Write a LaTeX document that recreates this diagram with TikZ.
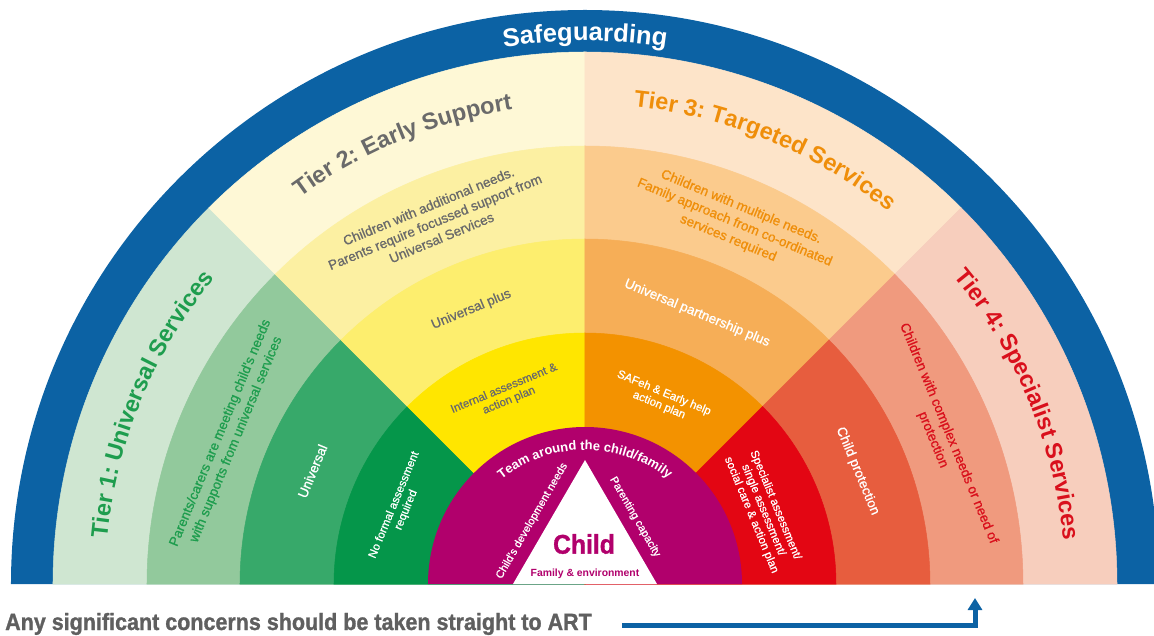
\documentclass[tikz,border=0pt]{standalone}
\usepackage{fontspec}
\setmainfont{Liberation Sans}
\newfontfamily\condbold[FakeStretch=0.915,FakeBold=1.2]{Liberation Sans Bold}
\newfontfamily\medfont[FakeBold=0.9]{Liberation Sans}
\usetikzlibrary{decorations.text,arrows.meta}
\definecolor{sgblue}{HTML}{0C62A4}
\definecolor{tOneA}{HTML}{CFE6D1}
\definecolor{tOneB}{HTML}{92C99C}
\definecolor{tOneC}{HTML}{37A96A}
\definecolor{tOneD}{HTML}{05964A}
\definecolor{tTwoA}{HTML}{FEF8D6}
\definecolor{tTwoB}{HTML}{FCF0A2}
\definecolor{tTwoC}{HTML}{FDEE6E}
\definecolor{tTwoD}{HTML}{FFE600}
\definecolor{tThreeA}{HTML}{FDE4C9}
\definecolor{tThreeB}{HTML}{FBCB8D}
\definecolor{tThreeC}{HTML}{F6AE57}
\definecolor{tThreeD}{HTML}{F39200}
\definecolor{tFourA}{HTML}{F7CEBD}
\definecolor{tFourB}{HTML}{F09A7E}
\definecolor{tFourC}{HTML}{E75D3E}
\definecolor{tFourD}{HTML}{E30613}
\definecolor{cmag}{HTML}{B1006C}
\definecolor{greentxt}{HTML}{1E9D4E}
\definecolor{graytxt}{HTML}{6A6A6A}
\definecolor{orangetxt}{HTML}{EF8E0A}
\definecolor{redtxt}{HTML}{D9101C}
\definecolor{bottomgray}{HTML}{5F5F5F}
\newcommand\ringsector[4]{%
  \filldraw[fill=#1,draw=#1,line width=0.5pt] (0,0) -- (#2:#4) arc[start angle=#2,end angle=#3,radius=#4pt] -- cycle;}
\newcommand\arctext[5]{%
  \path[decorate,decoration={text along path,text align=center,text={|#4|#5}}]
    (#2+#3:#1) arc[start angle=#2+#3,end angle=#2-#3,radius=#1pt];}
\tikzset{
  ringtxt/.style={font=\medfont\fontsize{13.5}{17}\selectfont,align=center,inner sep=0pt},
  smalltxt/.style={font=\medfont\fontsize{11.5}{13}\selectfont,align=center,inner sep=0pt},
  tritxt/.style={font=\medfont\fontsize{11}{13}\selectfont,text=white,inner sep=0pt},
  artarrow/.style={draw=sgblue,line width=5pt,-{Triangle[width=14pt,length=12pt]}}
}
\begin{document}
\begin{tikzpicture}[x=1pt,y=1pt]
\useasboundingbox (-585,-51) rectangle (569,584);
% outer blue ring
\fill[sgblue] (-574,0) arc[start angle=180,end angle=0,radius=574pt] -- cycle;
% rings
\ringsector{tOneA}{180}{135}{532}\ringsector{tTwoA}{135}{90}{532}\ringsector{tThreeA}{90}{45}{532}\ringsector{tFourA}{45}{0}{532}
\ringsector{tOneB}{180}{135}{438}\ringsector{tTwoB}{135}{90}{438}\ringsector{tThreeB}{90}{45}{438}\ringsector{tFourB}{45}{0}{438}
\ringsector{tOneC}{180}{135}{345}\ringsector{tTwoC}{135}{90}{345}\ringsector{tThreeC}{90}{45}{345}\ringsector{tFourC}{45}{0}{345}
\ringsector{tOneD}{180}{135}{251}\ringsector{tTwoD}{135}{90}{251}\ringsector{tThreeD}{90}{45}{251}\ringsector{tFourD}{45}{0}{251}
% centre
\fill[cmag] (-157,0) arc[start angle=180,end angle=0,radius=157pt] -- cycle;
\fill[white] (-72,0) -- (0,124) -- (72,0) -- cycle;
% curved titles
\arctext{543}{90}{60}{\color{white}\bfseries\fontsize{25.5}{30}\selectfont}{Safeguarding}
\arctext{480}{157.5}{40}{\color{greentxt}\bfseries\fontsize{23.5}{28}\selectfont}{Tier 1: Universal Services}
\arctext{480}{112.5}{40}{\color{graytxt}\bfseries\fontsize{23.5}{28}\selectfont}{Tier 2: Early Support}
\arctext{480}{67.5}{40}{\color{orangetxt}\bfseries\fontsize{23.5}{28}\selectfont}{Tier 3: Targeted Services}
\arctext{480}{22.5}{40}{\color{redtxt}\bfseries\fontsize{23.5}{28}\selectfont}{Tier 4: Specialist Services}
\arctext{134}{90}{80}{\color{white}\bfseries\fontsize{13}{15}\selectfont}{Team around the child/family}
% tier 1
\node[ringtxt,text=greentxt,rotate=67.5] (tonec) at (157.5:386) {Parents/carers are meeting child's needs\\with supports from universal services};
\node[ringtxt,text=white,rotate=67.5] (toneb) at (157.5:295) {Universal};
\node[smalltxt,text=white,rotate=67.5] (tonea) at (157.5:200) {No formal assessment\\required};
% tier 2
\node[ringtxt,text=graytxt,rotate=22.5] (ttwoc) at (112.5:392) {Children with additional needs.\\Parents require focussed support from\\Universal Services};
\node[ringtxt,text=graytxt,rotate=22.5] (ttwob) at (112.5:297) {Universal plus};
\node[smalltxt,text=graytxt,rotate=22.5] (ttwoa) at (112.5:205) {Internal assessment \&\\action plan};
% tier 3
\node[ringtxt,text=orangetxt,rotate=-22.5] (tthreec) at (67.5:391) {Children with multiple needs.\\Family approach from co-ordinated\\services required};
\node[ringtxt,text=white,rotate=-22.5] (tthreeb) at (67.5:293) {Universal partnership plus};
\node[smalltxt,text=white,rotate=-22.5] (tthreea) at (67.5:200) {SAFeh \& Early help\\action plan};
% tier 4
\node[ringtxt,text=redtxt,rotate=-67.5] (tfourc) at (22.5:385) {Children with complex needs or need of\\protection};
\node[ringtxt,text=white,rotate=-67.5] (tfourb) at (22.5:295) {Child protection};
\node[smalltxt,text=white,rotate=-67.5] (tfoura) at (22.5:193) {Specialist assessment/\\single assessment/\\social care \& action plan};
% centre texts
\node[tritxt,rotate=59.9] (devneeds) at (-53,63) {Child's development needs};
\node[tritxt,rotate=-59.9] (parcap) at (50,67) {Parenting capacity};
\node[inner sep=0pt,text=cmag,font=\condbold\fontsize{27}{30}\selectfont] (child) at (-1,40) {Child};
\node[inner sep=0pt,text=cmag,font=\bfseries\fontsize{10.4}{12}\selectfont] (famenv) at (0,10) {Family \& environment};
% bottom
\node[anchor=base west,inner sep=0pt,text=bottomgray,font=\condbold\fontsize{23.5}{28}\selectfont] (concern) at (-580,-46) {Any significant concerns should be taken straight to ART};
\coordinate (artfrom) at (37,-41);
\coordinate (artto) at (390,-14);
\draw[artarrow] (artfrom) -| (artto);
\end{tikzpicture}
\end{document}
